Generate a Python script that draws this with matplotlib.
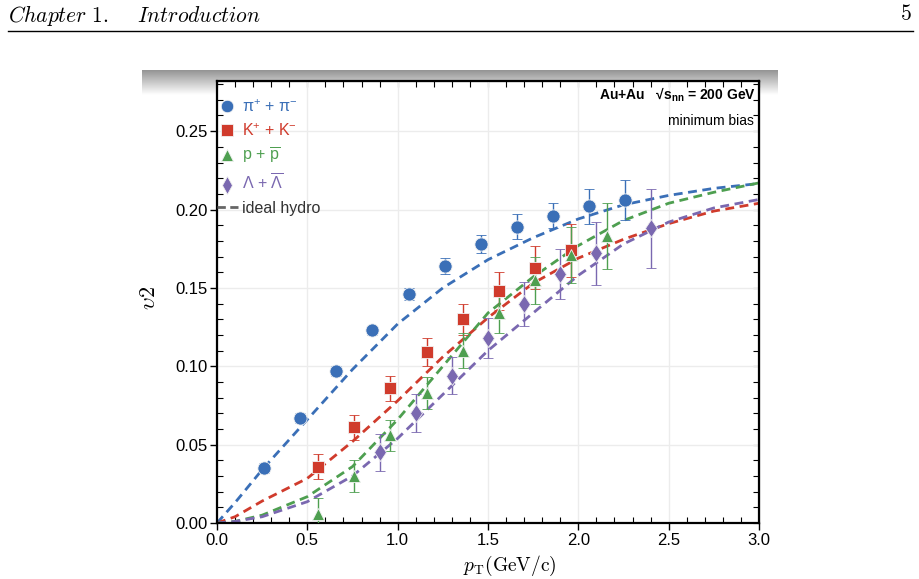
import numpy as np
import matplotlib.pyplot as plt
from matplotlib.lines import Line2D
from matplotlib.ticker import MultipleLocator

plt.rcParams['font.family'] = ['Liberation Sans', 'DejaVu Sans']
plt.rcParams['mathtext.fontset'] = 'custom'
plt.rcParams['mathtext.rm'] = 'Liberation Sans'
plt.rcParams['mathtext.it'] = 'Liberation Sans:italic'
plt.rcParams['mathtext.bf'] = 'Liberation Sans:bold'

pi_pt = [0.26, 0.46, 0.66, 0.86, 1.06, 1.26, 1.46, 1.66, 1.86, 2.06, 2.26]
pi_v2 = [0.035, 0.067, 0.097, 0.123, 0.146, 0.164, 0.178, 0.189, 0.196, 0.202, 0.206]
pi_err = [0.003, 0.003, 0.003, 0.003, 0.004, 0.005, 0.006, 0.008, 0.008, 0.011, 0.013]

k_pt = [0.56, 0.76, 0.96, 1.16, 1.36, 1.56, 1.76, 1.96]
k_v2 = [0.036, 0.061, 0.086, 0.109, 0.130, 0.148, 0.163, 0.174]
k_err = [0.008, 0.008, 0.008, 0.009, 0.010, 0.012, 0.014, 0.017]

p_pt = [0.56, 0.76, 0.96, 1.16, 1.36, 1.56, 1.76, 1.96, 2.16]
p_v2 = [0.006, 0.030, 0.056, 0.083, 0.110, 0.134, 0.155, 0.171, 0.183]
p_err = [0.010, 0.010, 0.010, 0.010, 0.011, 0.013, 0.015, 0.018, 0.021]

l_pt = [0.90, 1.10, 1.30, 1.50, 1.70, 1.90, 2.10, 2.40]
l_v2 = [0.045, 0.070, 0.094, 0.118, 0.140, 0.159, 0.172, 0.188]
l_err = [0.012, 0.012, 0.012, 0.013, 0.014, 0.016, 0.020, 0.025]

# ideal hydro curves
hydro_pt = [0.0, 0.1, 0.25, 0.5, 0.75, 1.0, 1.25, 1.5, 1.75, 2.0, 2.25, 2.5, 2.75, 3.0]
hydro_pi = [0.0, 0.013, 0.034, 0.066, 0.098, 0.127, 0.150, 0.168, 0.182, 0.194, 0.203, 0.209, 0.2135, 0.2166]
hydro_k = [0.0, 0.004, 0.014, 0.0285, 0.052, 0.078, 0.106, 0.131, 0.153, 0.169, 0.181, 0.191, 0.199, 0.204]
hydro_p = [0.0, 0.001, 0.005, 0.0168, 0.036, 0.066, 0.100, 0.134, 0.157, 0.177, 0.193, 0.204, 0.211, 0.217]
hydro_l = [0.0, 0.001, 0.004, 0.0136, 0.030, 0.054, 0.082, 0.110, 0.134, 0.158, 0.178, 0.192, 0.201, 0.2064]

c_pi = '#3a6fb7'
c_k = '#d03b2c'
c_p = '#4e9f50'
c_l = '#7a68b0'

fig = plt.figure(figsize=(9.2, 5.79), dpi=100)

# page header
fig.text(8 / 920, 1 - 15 / 579, r'$\mathit{Chapter\ 1.\quad\ Introduction}$', math_fontfamily='cm',
         fontsize=15.5, va='center', ha='left')
fig.text(912 / 920, 1 - 15 / 579, r'$\mathrm{5}$', math_fontfamily='cm', fontsize=15.5, va='center', ha='right')
fig.add_artist(Line2D([8 / 920, 913 / 920], [1 - 31 / 579, 1 - 31 / 579], color='black', lw=1.0))

# grey gradient band above the plot
band = fig.add_axes([142 / 920, 1 - 95 / 579, (778 - 142) / 920, 25 / 579], zorder=0)
grad = np.linspace(0.58, 1.0, 50)[:, None] * np.ones((50, 10))
band.imshow(grad, cmap='gray', vmin=0, vmax=1, aspect='auto', interpolation='bilinear')
band.axis('off')

ax = fig.add_axes([217 / 920, 1 - 523 / 579, (759 - 217) / 920, (523 - 81) / 579], zorder=2)
ax.set_facecolor('white')

ax.grid(True, which='major', color='#ececec', lw=1.0, zorder=0)
ax.set_axisbelow(True)

dash = (3.2, 2.0)
for v, c in [(hydro_pi, c_pi), (hydro_k, c_k), (hydro_p, c_p), (hydro_l, c_l)]:
    ax.plot(hydro_pt, v, ls='--', dashes=dash, color=c, lw=2.0, zorder=2)

sets = [(pi_pt, pi_v2, pi_err, 'o', 9.5, c_pi),
        (k_pt, k_v2, k_err, 's', 9, c_k),
        (p_pt, p_v2, p_err, '^', 9, c_p),
        (l_pt, l_v2, l_err, 'd', 9.5, c_l)]
for x, y, e, m, ms, c in sets:
    ax.errorbar(x, y, yerr=e, fmt=m, ms=ms, color=c, mec='#f2f2f2', mew=0.6,
                elinewidth=1.0, capsize=3.5, capthick=1.0, zorder=3)

ax.set_xlim(0, 3.0)
ax.set_ylim(0, 0.282)
ax.xaxis.set_major_locator(MultipleLocator(0.5))
ax.xaxis.set_minor_locator(MultipleLocator(0.1))
ax.yaxis.set_major_locator(MultipleLocator(0.05))
ax.yaxis.set_minor_locator(MultipleLocator(0.01))
ax.xaxis.set_major_formatter(lambda v, p: f'{v:.1f}')
ax.yaxis.set_major_formatter(lambda v, p: f'{v:.2f}')
ax.tick_params(which='major', direction='out', length=5, width=1.0, labelsize=12, pad=2)
ax.tick_params(which='minor', direction='in', length=4, width=0.8)
for s in ax.spines.values():
    s.set_linewidth(1.6)

# inward ticks on top and right
top = ax.secondary_xaxis('top')
top.xaxis.set_major_locator(MultipleLocator(0.5))
top.xaxis.set_minor_locator(MultipleLocator(0.1))
top.tick_params(which='both', direction='in', labeltop=False, length=4, width=0.8)
right = ax.secondary_yaxis('right')
right.yaxis.set_major_locator(MultipleLocator(0.05))
right.yaxis.set_minor_locator(MultipleLocator(0.01))
right.tick_params(which='both', direction='in', labelright=False, length=4, width=0.8)

fig.text(510 / 920, 1 - 566 / 579, r'$p_{\mathrm{T}}\mathrm{(GeV/c)}$', math_fontfamily='cm',
         fontsize=14, ha='center', va='center')
fig.text(150 / 920, 1 - 298 / 579, r'$\upsilon2$', math_fontfamily='cm', fontsize=16,
         rotation=90, ha='center', va='center')

ax.text(0.995, 0.99, r'Au+Au   √s$_{\mathbf{nn}}$ = 200 GeV', transform=ax.transAxes,
        ha='right', va='top', fontsize=10, fontweight='bold')
ax.text(0.99, 0.925, 'minimum bias', transform=ax.transAxes, ha='right', va='top', fontsize=10)

handles = [Line2D([], [], ls='none', marker='o', ms=9, color=c_pi, mec='#f2f2f2', mew=0.6),
           Line2D([], [], ls='none', marker='s', ms=8.5, color=c_k, mec='#f2f2f2', mew=0.6),
           Line2D([], [], ls='none', marker='^', ms=8.5, color=c_p, mec='#f2f2f2', mew=0.6),
           Line2D([], [], ls='none', marker='d', ms=9, color=c_l, mec='#f2f2f2', mew=0.6),
           Line2D([], [], ls='--', dashes=(3, 1.6), color='#666666', lw=2.0)]
labels = [r'π$^{+}$ + π$^{-}$', r'K$^{+}$ + K$^{-}$', r'p + $\overline{\mathrm{p}}$',
          r'Λ + $\overline{\mathrm{Λ}}$', 'ideal hydro']
leg = ax.legend(handles, labels, loc='upper left', bbox_to_anchor=(-0.027, 0.993), frameon=False,
                fontsize=11.5, handlelength=1.3, handletextpad=0.3, labelspacing=0.45)
for t, c in zip(leg.get_texts(), [c_pi, c_k, c_p, c_l, '#333333']):
    t.set_color(c)

fig.savefig('out.png', dpi=100)
